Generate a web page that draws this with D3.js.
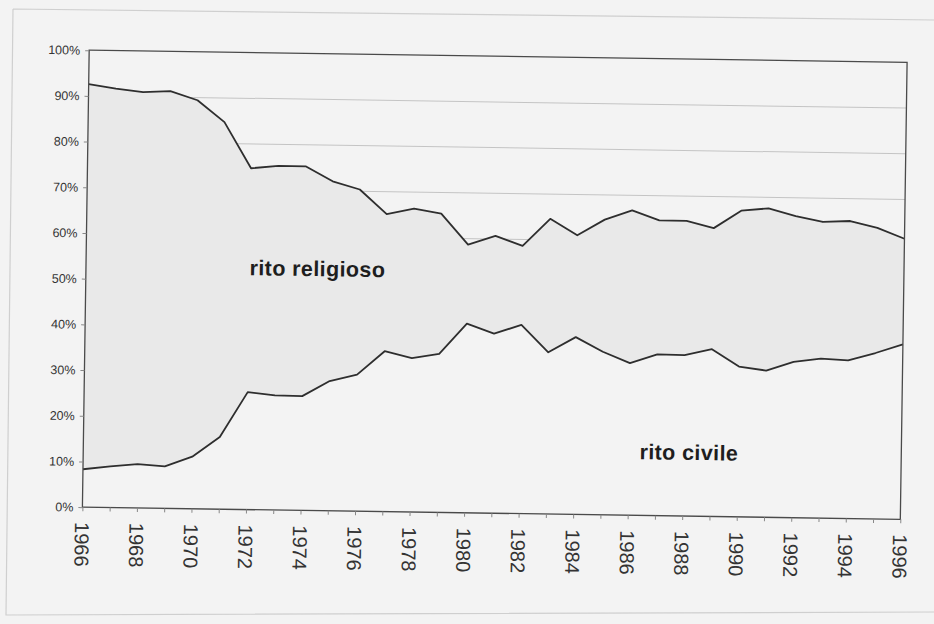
<!DOCTYPE html>
<html>
<head>
<meta charset="utf-8">
<script src="https://cdn.jsdelivr.net/npm/d3@7"></script>
<style>
  html, body { margin: 0; padding: 0; background: #f3f3f3; }
  svg { display: block; }
</style>
</head>
<body>
<svg id="chart" width="934" height="624"></svg>
<script>
// ---- data ----
const years = d3.range(1966, 1997);
const ritoReligioso = [92.6, 91.7, 91.0, 91.3, 89.4, 84.7, 74.7, 75.3, 75.3, 72.1,
                       70.4, 65.1, 66.4, 65.4, 58.7, 60.7, 58.6, 64.6, 61.1, 64.6,
                       66.7, 64.6, 64.6, 63.1, 67.0, 67.6, 66.0, 64.8, 65.1, 63.7, 61.4];
const ritoCivile    = [8.3, 9.0, 9.6, 9.2, 11.4, 15.8, 25.7, 25.1, 25.0, 28.4,
                       29.9, 35.1, 33.7, 34.7, 41.4, 39.3, 41.3, 35.4, 38.8, 35.7,
                       33.3, 35.3, 35.2, 36.6, 32.9, 32.1, 34.1, 34.9, 34.6, 36.3, 38.3];
const yTicks = [0, 10, 20, 30, 40, 50, 60, 70, 80, 90, 100];
const xTickLabels = d3.range(1966, 1997, 2);
const seriesLabels = [
  {text: "rito religioso", year: 1972.0, value: 51.3},
  {text: "rito civile",    year: 1986.4, value: 12.3}
];

// ---- layout ----
const svg = d3.select("#chart");
const plotLeft = 85.75, plotTop = 56.25, W = 818, H = 457;
const cx = plotLeft + W / 2, cy = plotTop + H / 2;
const tilt = 0.85;

// faint page frame from the scan
svg.append("path")
  .attr("d", "M13,9 L934,20 M13,9 L6,615 L934,612")
  .attr("fill", "none").attr("stroke", "#cfcfcf").attr("stroke-width", 1.2);

const g = svg.append("g")
  .attr("transform", `rotate(${tilt},${cx},${cy}) translate(${plotLeft},${plotTop})`);

const x = d3.scaleLinear().domain([1966, 1996]).range([0, W]);
const y = d3.scaleLinear().domain([0, 100]).range([H, 0]);

const data = years.map((yr, i) => ({yr, rel: ritoReligioso[i], civ: ritoCivile[i]}));

// gridlines
g.append("g").selectAll("line").data(yTicks.filter(t => t > 0 && t < 100)).join("line")
  .attr("x1", 0).attr("x2", W)
  .attr("y1", d => y(d)).attr("y2", d => y(d))
  .attr("stroke", "#c4c4c4").attr("stroke-width", 1);

// area below civil line (covers gridlines, page-coloured)
g.append("path").datum(data)
  .attr("d", d3.area().x(d => x(d.yr)).y0(y(0)).y1(d => y(d.civ)))
  .attr("fill", "#f3f3f3");

// band between civile and religioso
g.append("path").datum(data)
  .attr("d", d3.area().x(d => x(d.yr)).y0(d => y(d.civ)).y1(d => y(d.rel)))
  .attr("fill", "#e9e9e9");

// lines
const line = key => d3.line().x(d => x(d.yr)).y(d => y(d[key]));
g.append("path").datum(data).attr("d", line("rel"))
  .attr("fill", "none").attr("stroke", "#2e2e2e").attr("stroke-width", 1.8).attr("stroke-linejoin", "round");
g.append("path").datum(data).attr("d", line("civ"))
  .attr("fill", "none").attr("stroke", "#2e2e2e").attr("stroke-width", 1.8).attr("stroke-linejoin", "round");

// plot frame
g.append("rect").attr("x", 0).attr("y", 0).attr("width", W).attr("height", H)
  .attr("fill", "none").attr("stroke", "#4a4a4a").attr("stroke-width", 1.3);

// y axis
const yAxis = d3.axisLeft(y).tickValues(yTicks).tickFormat(d => d + "%").tickSize(4).tickPadding(5);
const ya = g.append("g").call(yAxis);
ya.select(".domain").remove();
ya.selectAll("line").attr("stroke", "#888");
ya.selectAll("text").attr("font-family", "Liberation Sans, Arial, sans-serif")
  .attr("font-size", 12.5).attr("fill", "#333");

// x axis
const xAxis = d3.axisBottom(x).tickValues(years).tickSize(4).tickFormat("");
const xa = g.append("g").attr("transform", `translate(0,${H})`).call(xAxis);
xa.select(".domain").remove();
xa.selectAll("line").attr("stroke", "#888");

g.append("g").selectAll("text").data(xTickLabels).join("text")
  .attr("transform", d => `translate(${x(d)},${H + 15}) rotate(90)`)
  .attr("dy", "0.36em")
  .attr("text-anchor", "start")
  .attr("font-family", "Liberation Sans, Arial, sans-serif")
  .attr("font-size", 20).attr("fill", "#333")
  .text(d => d);

// series labels
g.append("g").selectAll("text").data(seriesLabels).join("text")
  .attr("x", d => x(d.year)).attr("y", d => y(d.value))
  .attr("font-family", "Liberation Sans, Arial, sans-serif")
  .attr("font-weight", "bold").attr("font-size", 21.5).attr("letter-spacing", 0.4)
  .attr("fill", "#1e1e1e")
  .text(d => d.text);
</script>
</body>
</html>
